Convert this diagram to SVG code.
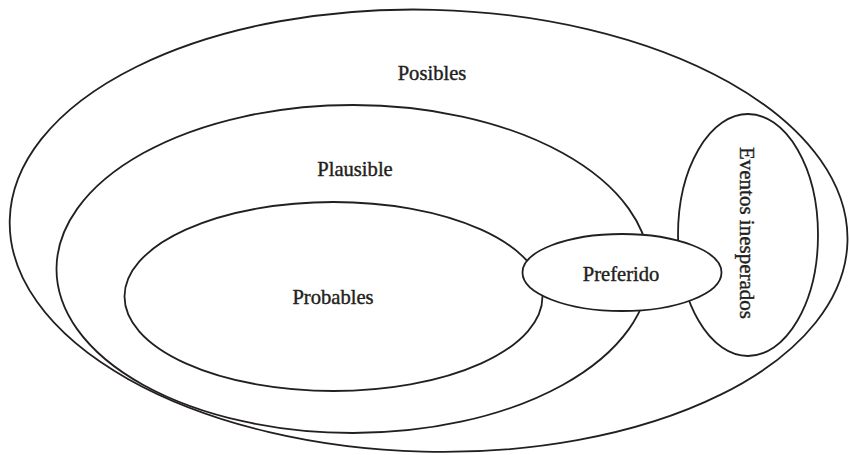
<svg xmlns="http://www.w3.org/2000/svg" width="849" height="455" viewBox="0 0 849 455">
<style>
.shape{fill:#fff;stroke:#231f20;stroke-width:1.8}
.lbl{font-family:"Liberation Serif","Times New Roman",serif;fill:#231f20;stroke:#231f20;stroke-width:0.4;text-anchor:middle;font-size:20.6px}
</style>
<rect width="849" height="455" fill="#fff"/>
<g id="posibles">
<ellipse class="shape" cx="428.6" cy="230.7" rx="419" ry="221" transform="rotate(1.5 428.6 230.7)"/>
<text class="lbl" x="432" y="80">Posibles</text>
</g>
<g id="plausible">
<ellipse class="shape" cx="353" cy="269" rx="296.5" ry="164"/>
<text class="lbl" x="355" y="176">Plausible</text>
</g>
<g id="probables">
<ellipse class="shape" cx="333.5" cy="296.5" rx="209" ry="94.5"/>
<text class="lbl" x="333" y="304">Probables</text>
</g>
<g id="eventos-inesperados">
<ellipse class="shape" cx="748" cy="235" rx="70" ry="121"/>
<text class="lbl" x="740" y="233" style="font-size:21px" transform="rotate(90 740 233)">Eventos inesperados</text>
</g>
<g id="preferido">
<ellipse class="shape" cx="622" cy="272.5" rx="99.5" ry="38.5"/>
<text class="lbl" x="621" y="281">Preferido</text>
</g>
<g id="connectors"></g>
</svg>
